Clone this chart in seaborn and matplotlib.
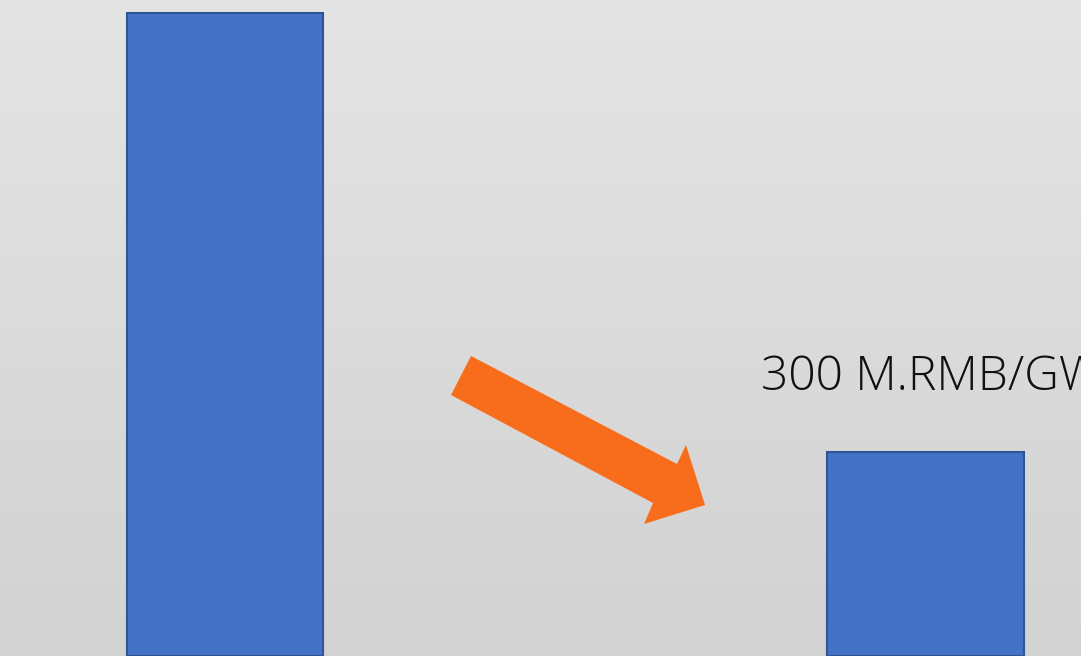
import numpy as np
import pandas as pd
import matplotlib
matplotlib.use("Agg")
import matplotlib.pyplot as plt
import seaborn as sns
from matplotlib.patches import Polygon

# data
categories = ["Before", "After"]
values = [945, 300]
label_text = "300 M.RMB/GW"

sns.set_theme(style="white")
plt.rcParams['font.family'] = ['Open Sans', 'Noto Sans CJK SC', 'DejaVu Sans']

W, H = 1081, 656
fig = plt.figure(figsize=(W / 100, H / 100), dpi=100)

# gradient background
grad = np.linspace(0, 1, 256).reshape(-1, 1)
top = np.array([0.894, 0.894, 0.894])
bot = np.array([0.827, 0.824, 0.824])
img = top[None, None, :] * (1 - grad[:, :, None]) + bot[None, None, :] * grad[:, :, None]
bg_ax = fig.add_axes([0, 0, 1, 1], zorder=-1)
bg_ax.imshow(img, aspect="auto", extent=[0, 1, 0, 1])
bg_ax.axis("off")

ax = fig.add_axes([0, 0, 1, 1])
ax.set_zorder(1)
ax.patch.set_alpha(0)

df = pd.DataFrame({"cat": categories, "val": values})
sns.barplot(data=df, x="cat", y="val", ax=ax, color="#4472C4", width=0.28,
            edgecolor="#2F5597", linewidth=1.5, saturation=1)

ax.set_xlim(-0.321, 1.222)
ax.set_ylim(0, 964)
ax.axis("off")

# arrow (in figure pixel coords, y from top)
pts = [(471, 356), (677, 464), (686, 445), (705, 505), (644, 524), (653, 503), (451, 395)]
pts_fig = [(x / W, 1 - y / H) for x, y in pts]
fig.patches.append(Polygon(pts_fig, closed=True, transform=fig.transFigure,
                           facecolor="#F76D1C", edgecolor="none", zorder=5))

fig.text(761 / W, 1 - 390 / H, label_text, fontsize=34.5, color="#111111",
         fontweight="light", ha="left", va="baseline")

fig.savefig("out.png", dpi=100)
